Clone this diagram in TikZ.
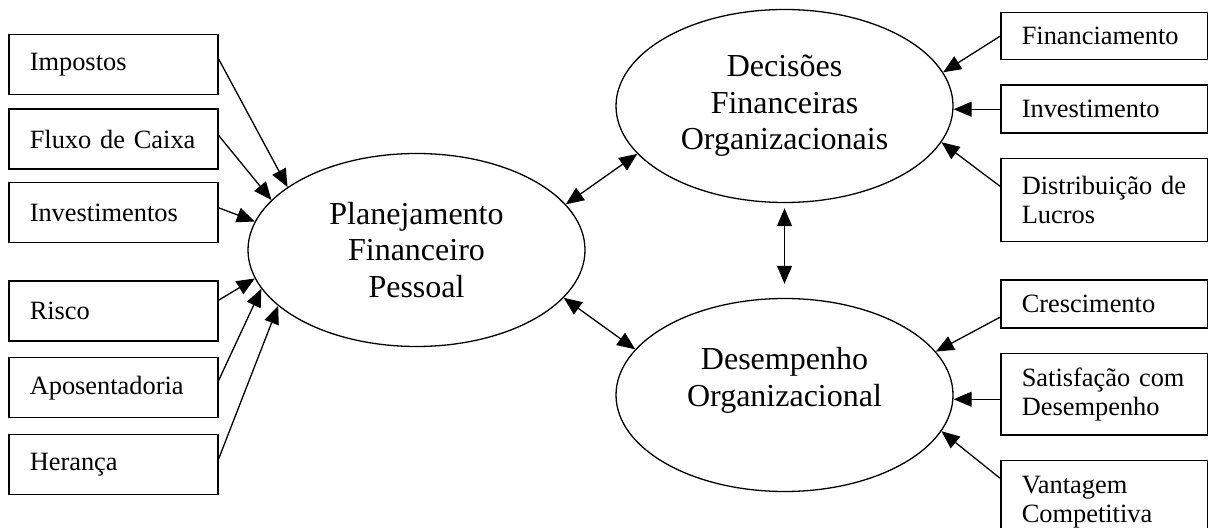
\documentclass[tikz,border=0pt]{standalone}
\usepackage{fontspec}
\setmainfont{Liberation Serif}
\usetikzlibrary{positioning, arrows.meta, shapes.geometric}

\begin{document}
\begin{tikzpicture}[
        x=0.5pt, y=-0.5pt,
        node distance=6pt,
        box/.style  ={draw, line width=0.75pt, align=left, inner xsep=10.5pt,
                      inner ysep=2pt, font=\fontsize{13.2}{14.6}\selectfont},
        lbox/.style ={box, text width=83.5pt, minimum height=30pt},
        rbox/.style ={box, text width=82.5pt, minimum height=23.5pt},
        area/.style ={draw, ellipse, line width=0.65pt, minimum width=168.5pt,
                      minimum height=96.5pt, inner sep=0pt, align=center,
                      font=\fontsize{16}{18.3}\selectfont},
        arr/.style  ={-{Triangle[length=9pt, width=7.5pt]}, line width=0.65pt},
        both/.style ={{Triangle[length=9pt, width=7.5pt]}-{Triangle[length=9pt, width=7.5pt]},
                      line width=0.65pt}
    ]
      \useasboundingbox (0,0) rectangle (1208,528);

      % ===== CENTRAL ELLIPSES =====
      \node[area] (pfp) at (416.5,250) {Planejamento\\Financeiro\\Pessoal};
      \node[area] (dfo) at (784.5,106) {Decisões\\Financeiras\\Organizacionais};
      \node[area] (dor) at (784.5,395) {Desempenho\\Organizacional\\\mbox{}};

      % ===== LEFT COLUMN =====
      \node[lbox, anchor=north west] (imp) at (8,34) {Impostos};
      \node[lbox, below=6.5pt of imp]   (flx) {Fluxo de Caixa};
      \node[lbox, below=of flx]         (inv) {Investimentos};
      \node[lbox, below=18.5pt of inv]  (ris) {Risco};
      \node[lbox, below=7.5pt of ris]   (apo) {Aposentadoria};
      \node[lbox, below=7.5pt of apo]   (her) {Herança};

      % ===== RIGHT COLUMN =====
      \node[rbox, anchor=north west] (fin) at (1000,12) {Financiamento};
      \node[rbox, below=12pt of fin, minimum height=24pt] (ivt) {Investimento};
      \node[rbox, below=12pt of ivt, minimum height=41.5pt] (dis) {Distribuição de\\Lucros};
      \node[rbox, below=18.5pt of dis, minimum height=24pt] (cre) {Crescimento};
      \node[rbox, below=12pt of cre, minimum height=40.5pt] (sat) {Satisfação com\\Desempenho};
      \node[rbox, below=12pt of sat, minimum height=42pt]   (van) {Vantagem\\Competitiva};

      % left factors into personal planning
      \draw[arr] ([yshift=3pt]imp.east)   -- (pfp.154);
      \draw[arr] ([yshift=2pt]flx.east)   -- (pfp.161);
      \draw[arr] ([yshift=2.5pt]inv.east) -- (pfp.170);
      \draw[arr] ([yshift=5.5pt]ris.east) -- (pfp.190);
      \draw[arr] ([yshift=3.5pt]apo.east) -- (pfp.194);
      \draw[arr] ([yshift=2.5pt]her.east) -- (pfp.202);

      % right factors into the organisational ellipses
      \draw[arr] (fin.west)                -- (dfo.12);
      \draw[arr] (ivt.west)                -- (ivt.west -| dfo.east);
      \draw[arr] ([yshift=7pt]dis.west)    -- (dfo.347);
      \draw[arr] ([yshift=-6.5pt]cre.west) -- (dor.16);
      \draw[arr] ([yshift=-2.5pt]sat.west) -- ([yshift=-2.5pt]sat.west -| dor.east);
      \draw[arr] ([yshift=12pt]van.west)   -- (dor.347);

      % links between the ellipses
      \draw[both] (pfp.17)  -- (dfo.198);
      \draw[both] (pfp.342) -- (dor.163);
      \draw[both, shorten <=2.5pt, shorten >=7pt] (dfo.south) -- (dor.north);
    \end{tikzpicture}
\end{document}
